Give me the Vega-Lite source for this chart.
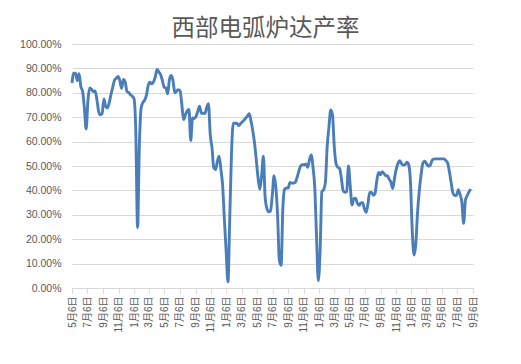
{
  "$schema": "https://vega.github.io/schema/vega-lite/v6.json",
  "autosize": {"type": "none"},
  "width": 401,
  "height": 244,
  "padding": {"left": 72, "top": 44, "right": 48, "bottom": 76},
  "background": "white",
  "config": {"view": {"stroke": null}, "font": "Liberation Sans, Noto Sans CJK SC"},
  "title": {"text": "西部电弧炉达产率", "font": "Noto Sans CJK SC", "fontSize": 23.5, "fontWeight": "normal", "color": "#595959", "offset": -1, "dx": -7},
  "data": {"values": [
    {"d":"2014-05-06","v":0.84},{"d":"2014-05-13","v":0.88},{"d":"2014-05-20","v":0.88},{"d":"2014-05-27","v":0.85},
    {"d":"2014-06-03","v":0.878},{"d":"2014-06-10","v":0.825},{"d":"2014-06-17","v":0.805},{"d":"2014-06-24","v":0.735},
    {"d":"2014-07-01","v":0.652},{"d":"2014-07-08","v":0.77},{"d":"2014-07-15","v":0.82},{"d":"2014-07-22","v":0.815},{"d":"2014-07-29","v":0.805},
    {"d":"2014-08-05","v":0.808},{"d":"2014-08-12","v":0.775},{"d":"2014-08-19","v":0.725},{"d":"2014-08-26","v":0.71},
    {"d":"2014-09-02","v":0.715},{"d":"2014-09-09","v":0.775},{"d":"2014-09-16","v":0.745},{"d":"2014-09-23","v":0.738},{"d":"2014-09-30","v":0.76},
    {"d":"2014-10-07","v":0.793},{"d":"2014-10-14","v":0.823},{"d":"2014-10-21","v":0.852},{"d":"2014-10-28","v":0.86},
    {"d":"2014-11-04","v":0.867},{"d":"2014-11-11","v":0.85},{"d":"2014-11-18","v":0.818},{"d":"2014-11-25","v":0.855},
    {"d":"2014-12-02","v":0.845},{"d":"2014-12-09","v":0.805},{"d":"2014-12-16","v":0.801},{"d":"2014-12-23","v":0.792},{"d":"2014-12-30","v":0.786},
    {"d":"2015-01-06","v":0.776},{"d":"2015-01-13","v":0.64},{"d":"2015-01-20","v":0.248},{"d":"2015-01-27","v":0.58},
    {"d":"2015-02-03","v":0.738},{"d":"2015-02-10","v":0.76},{"d":"2015-02-17","v":0.77},{"d":"2015-02-24","v":0.79},
    {"d":"2015-03-03","v":0.83},{"d":"2015-03-10","v":0.843},{"d":"2015-03-17","v":0.837},{"d":"2015-03-24","v":0.845},{"d":"2015-03-31","v":0.865},
    {"d":"2015-04-07","v":0.896},{"d":"2015-04-14","v":0.885},{"d":"2015-04-21","v":0.875},{"d":"2015-04-28","v":0.85},
    {"d":"2015-05-05","v":0.823},{"d":"2015-05-12","v":0.82},{"d":"2015-05-19","v":0.796},{"d":"2015-05-26","v":0.855},
    {"d":"2015-06-02","v":0.871},{"d":"2015-06-09","v":0.85},{"d":"2015-06-16","v":0.80},{"d":"2015-06-23","v":0.807},{"d":"2015-06-30","v":0.813},
    {"d":"2015-07-07","v":0.808},{"d":"2015-07-14","v":0.75},{"d":"2015-07-21","v":0.69},{"d":"2015-07-28","v":0.71},
    {"d":"2015-08-04","v":0.726},{"d":"2015-08-11","v":0.732},{"d":"2015-08-18","v":0.604},{"d":"2015-08-25","v":0.697},
    {"d":"2015-09-01","v":0.694},{"d":"2015-09-08","v":0.703},{"d":"2015-09-15","v":0.725},{"d":"2015-09-22","v":0.745},{"d":"2015-09-29","v":0.716},
    {"d":"2015-10-06","v":0.716},{"d":"2015-10-13","v":0.715},{"d":"2015-10-20","v":0.74},{"d":"2015-10-27","v":0.755},
    {"d":"2015-11-03","v":0.63},{"d":"2015-11-10","v":0.575},{"d":"2015-11-17","v":0.493},{"d":"2015-11-24","v":0.485},
    {"d":"2015-12-01","v":0.518},{"d":"2015-12-08","v":0.54},{"d":"2015-12-15","v":0.488},{"d":"2015-12-22","v":0.42},{"d":"2015-12-29","v":0.28},
    {"d":"2016-01-05","v":0.15},{"d":"2016-01-12","v":0.025},{"d":"2016-01-19","v":0.28},{"d":"2016-01-26","v":0.55},
    {"d":"2016-02-02","v":0.675},{"d":"2016-02-09","v":0.675},{"d":"2016-02-16","v":0.675},{"d":"2016-02-23","v":0.666},
    {"d":"2016-03-01","v":0.673},{"d":"2016-03-08","v":0.68},{"d":"2016-03-15","v":0.687},{"d":"2016-03-22","v":0.696},{"d":"2016-03-29","v":0.705},
    {"d":"2016-04-05","v":0.714},{"d":"2016-04-12","v":0.685},{"d":"2016-04-19","v":0.645},{"d":"2016-04-26","v":0.595},
    {"d":"2016-05-03","v":0.525},{"d":"2016-05-10","v":0.45},{"d":"2016-05-17","v":0.405},{"d":"2016-05-24","v":0.46},{"d":"2016-05-31","v":0.54},
    {"d":"2016-06-07","v":0.37},{"d":"2016-06-14","v":0.325},{"d":"2016-06-21","v":0.312},{"d":"2016-06-28","v":0.315},
    {"d":"2016-07-05","v":0.378},{"d":"2016-07-12","v":0.46},{"d":"2016-07-19","v":0.415},{"d":"2016-07-26","v":0.30},
    {"d":"2016-08-02","v":0.115},{"d":"2016-08-09","v":0.093},{"d":"2016-08-16","v":0.33},{"d":"2016-08-23","v":0.405},{"d":"2016-08-30","v":0.41},
    {"d":"2016-09-06","v":0.41},{"d":"2016-09-13","v":0.433},{"d":"2016-09-20","v":0.43},{"d":"2016-09-27","v":0.43},
    {"d":"2016-10-04","v":0.433},{"d":"2016-10-11","v":0.453},{"d":"2016-10-18","v":0.478},{"d":"2016-10-25","v":0.50},
    {"d":"2016-11-01","v":0.505},{"d":"2016-11-08","v":0.505},{"d":"2016-11-15","v":0.508},{"d":"2016-11-22","v":0.495},{"d":"2016-11-29","v":0.525},
    {"d":"2016-12-06","v":0.545},{"d":"2016-12-13","v":0.495},{"d":"2016-12-20","v":0.41},{"d":"2016-12-27","v":0.21},
    {"d":"2017-01-03","v":0.03},{"d":"2017-01-10","v":0.15},{"d":"2017-01-17","v":0.395},{"d":"2017-01-24","v":0.402},{"d":"2017-01-31","v":0.433},
    {"d":"2017-02-07","v":0.58},{"d":"2017-02-14","v":0.66},{"d":"2017-02-21","v":0.73},{"d":"2017-02-28","v":0.71},
    {"d":"2017-03-07","v":0.58},{"d":"2017-03-14","v":0.51},{"d":"2017-03-21","v":0.495},{"d":"2017-03-28","v":0.49},
    {"d":"2017-04-04","v":0.45},{"d":"2017-04-11","v":0.399},{"d":"2017-04-18","v":0.392},{"d":"2017-04-25","v":0.395},
    {"d":"2017-05-02","v":0.50},{"d":"2017-05-09","v":0.42},{"d":"2017-05-16","v":0.34},{"d":"2017-05-23","v":0.366},{"d":"2017-05-30","v":0.368},
    {"d":"2017-06-06","v":0.348},{"d":"2017-06-13","v":0.339},{"d":"2017-06-20","v":0.348},{"d":"2017-06-27","v":0.35},
    {"d":"2017-07-04","v":0.325},{"d":"2017-07-11","v":0.31},{"d":"2017-07-18","v":0.345},{"d":"2017-07-25","v":0.392},
    {"d":"2017-08-01","v":0.392},{"d":"2017-08-08","v":0.38},{"d":"2017-08-15","v":0.388},{"d":"2017-08-22","v":0.44},{"d":"2017-08-29","v":0.474},
    {"d":"2017-09-05","v":0.464},{"d":"2017-09-12","v":0.477},{"d":"2017-09-19","v":0.47},{"d":"2017-09-26","v":0.46},
    {"d":"2017-10-03","v":0.46},{"d":"2017-10-10","v":0.445},{"d":"2017-10-17","v":0.433},{"d":"2017-10-24","v":0.408},{"d":"2017-10-31","v":0.45},
    {"d":"2017-11-07","v":0.488},{"d":"2017-11-14","v":0.512},{"d":"2017-11-21","v":0.522},{"d":"2017-11-28","v":0.509},
    {"d":"2017-12-05","v":0.504},{"d":"2017-12-12","v":0.506},{"d":"2017-12-19","v":0.516},{"d":"2017-12-26","v":0.505},
    {"d":"2018-01-02","v":0.435},{"d":"2018-01-09","v":0.235},{"d":"2018-01-16","v":0.135},{"d":"2018-01-23","v":0.18},{"d":"2018-01-30","v":0.31},
    {"d":"2018-02-06","v":0.40},{"d":"2018-02-13","v":0.465},{"d":"2018-02-20","v":0.512},{"d":"2018-02-27","v":0.52},
    {"d":"2018-03-06","v":0.51},{"d":"2018-03-13","v":0.50},{"d":"2018-03-20","v":0.501},{"d":"2018-03-27","v":0.52},
    {"d":"2018-04-03","v":0.528},{"d":"2018-04-10","v":0.529},{"d":"2018-04-17","v":0.529},{"d":"2018-04-24","v":0.529},
    {"d":"2018-05-01","v":0.529},{"d":"2018-05-08","v":0.529},{"d":"2018-05-15","v":0.529},{"d":"2018-05-22","v":0.522},{"d":"2018-05-29","v":0.512},
    {"d":"2018-06-05","v":0.475},{"d":"2018-06-12","v":0.43},{"d":"2018-06-19","v":0.388},{"d":"2018-06-26","v":0.379},
    {"d":"2018-07-03","v":0.38},{"d":"2018-07-10","v":0.403},{"d":"2018-07-17","v":0.383},{"d":"2018-07-24","v":0.351},{"d":"2018-07-31","v":0.265},
    {"d":"2018-08-07","v":0.36},{"d":"2018-08-14","v":0.378},{"d":"2018-08-21","v":0.394},{"d":"2018-08-28","v":0.406}
  ]},
  "mark": {"type": "line", "interpolate": "monotone", "strokeWidth": 2.9, "color": "#4a7ebb"},
  "encoding": {
    "x": {
      "field": "d", "type": "temporal",
      "scale": {"type": "utc", "domain": [{"year": 2014, "month": 5, "date": 6, "utc": true}, {"year": 2018, "month": 9, "date": 6, "utc": true}]},
      "axis": {
        "title": null,
        "values": [
          {"year":2014,"month":5,"date":6,"utc":true},{"year":2014,"month":7,"date":6,"utc":true},{"year":2014,"month":9,"date":6,"utc":true},{"year":2014,"month":11,"date":6,"utc":true},
          {"year":2015,"month":1,"date":6,"utc":true},{"year":2015,"month":3,"date":6,"utc":true},{"year":2015,"month":5,"date":6,"utc":true},{"year":2015,"month":7,"date":6,"utc":true},{"year":2015,"month":9,"date":6,"utc":true},{"year":2015,"month":11,"date":6,"utc":true},
          {"year":2016,"month":1,"date":6,"utc":true},{"year":2016,"month":3,"date":6,"utc":true},{"year":2016,"month":5,"date":6,"utc":true},{"year":2016,"month":7,"date":6,"utc":true},{"year":2016,"month":9,"date":6,"utc":true},{"year":2016,"month":11,"date":6,"utc":true},
          {"year":2017,"month":1,"date":6,"utc":true},{"year":2017,"month":3,"date":6,"utc":true},{"year":2017,"month":5,"date":6,"utc":true},{"year":2017,"month":7,"date":6,"utc":true},{"year":2017,"month":9,"date":6,"utc":true},{"year":2017,"month":11,"date":6,"utc":true},
          {"year":2018,"month":1,"date":6,"utc":true},{"year":2018,"month":3,"date":6,"utc":true},{"year":2018,"month":5,"date":6,"utc":true},{"year":2018,"month":7,"date":6,"utc":true},{"year":2018,"month":9,"date":6,"utc":true}
        ],
        "format": "%-m月%-d日",
        "labelAngle": 270,
        "labelFontSize": 10,
        "labelColor": "#595959",
        "labelOverlap": false,
        "labelFlush": false,
        "labelPadding": 3,
        "grid": false,
        "ticks": true,
        "tickSize": 5,
        "tickColor": "#d9d9d9",
        "domainColor": "#d9d9d9"
      }
    },
    "y": {
      "field": "v", "type": "quantitative",
      "scale": {"domain": [0, 1], "nice": false},
      "axis": {
        "title": null,
        "values": [0, 0.1, 0.2, 0.3, 0.4, 0.5, 0.6, 0.7, 0.8, 0.9, 1],
        "format": ".2%",
        "labelFontSize": 10.5,
        "labelColor": "#595959",
        "labelPadding": 11,
        "domain": false,
        "ticks": false,
        "gridColor": "#d9d9d9"
      }
    }
  }
}
